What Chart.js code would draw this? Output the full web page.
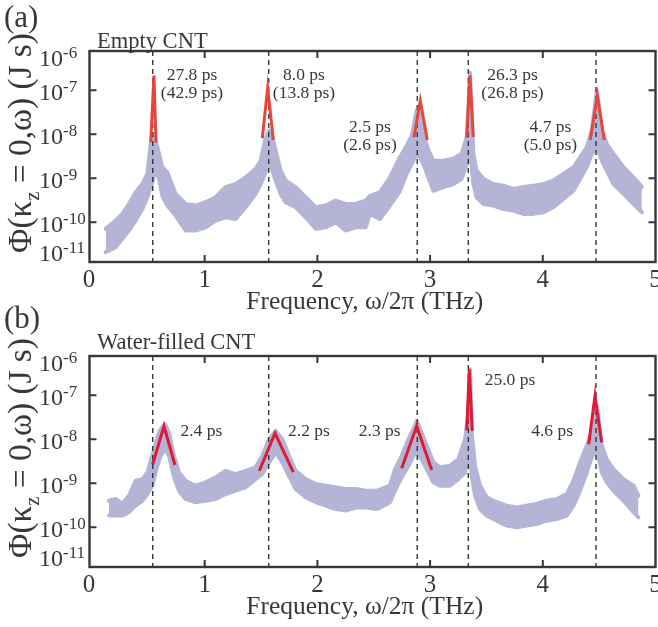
<!DOCTYPE html>
<html>
<head>
<meta charset="utf-8">
<title>Phi(kz=0, w) spectra: empty vs water-filled CNT</title>
<script src="https://cdn.jsdelivr.net/npm/chart.js"></script>
<style>
  html, body { margin: 0; padding: 0; background: #fff; }
  #wrap { position: relative; width: 658px; height: 627px; overflow: hidden; }
  #wrap canvas { position: absolute; left: 0; }
  #cA { top: 0; }
  #cB { top: 305px; }
</style>
</head>
<body>
<div id="wrap">
  <canvas id="cA" width="658" height="320"></canvas>
  <canvas id="cB" width="658" height="320"></canvas>
</div>
<script>
// ---- data ----
// scatter cloud, kept as its upper / lower edge per frequency (THz), in J s

// (a) empty CNT
const aFreq = [0.121, 0.210, 0.269, 0.328, 0.387, 0.447, 0.491, 0.521, 0.541, 0.565,
  0.595, 0.624, 0.668, 0.742, 0.831, 0.920, 1.008, 1.097, 1.186, 1.275,
  1.363, 1.452, 1.497, 1.535, 1.571, 1.600, 1.630, 1.674, 1.718, 1.807,
  1.896, 1.985, 2.074, 2.162, 2.251, 2.340, 2.429,
  2.467, 2.555, 2.644, 2.733, 2.792, 2.837, 2.881, 2.910, 2.940, 2.985,
  3.029, 3.118, 3.207, 3.280, 3.325, 3.354, 3.384, 3.413, 3.473, 3.561,
  3.650, 3.739, 3.828, 3.917, 4.005, 4.094, 4.183, 4.272, 4.331, 4.390,
  4.435, 4.479, 4.524, 4.568, 4.627, 4.716, 4.805, 4.879];
const aUpper = [7.1e-11, 1.09e-10, 1.55e-10, 2.6e-10, 4.8e-10, 7.4e-10, 1.26e-9, 6.0e-9, 1.02e-8, 7.2e-9,
  3.6e-9, 1.78e-9, 1.37e-9, 4.4e-10, 2.6e-10, 2.4e-10, 2.85e-10, 3.7e-10, 6.3e-10, 7.4e-10,
  1.05e-9, 1.63e-9, 2.5e-9, 7.2e-9, 1.21e-8, 8.6e-9, 4.3e-9, 1.5e-9, 8.9e-10, 6.3e-10,
  3.7e-10, 2.2e-10, 2.4e-10, 3.1e-10, 2.6e-10, 2.6e-10, 3.1e-10,
  4.0e-10, 4.8e-10, 1.05e-9, 3.0e-9, 5.5e-9, 9.3e-9, 3.5e-8, 2.9e-8, 1.02e-8, 4.3e-9,
  2.5e-9, 2.5e-9, 2.8e-9, 3.6e-9, 8.6e-9, 2.5e-7, 3.6e-9, 1.5e-9, 9.7e-10, 7.4e-10,
  6.8e-10, 5.7e-10, 6.3e-10, 6.8e-10, 7.4e-10, 8.9e-10, 1.26e-9, 1.78e-9, 3.0e-9, 5.1e-9,
  1.21e-8, 9.8e-8, 1.21e-8, 6.0e-9, 3.6e-9, 1.78e-9, 1.05e-9, 6.3e-10];
const aLower = [2.1e-11, 2.7e-11, 4.2e-11, 6.5e-11, 1.09e-10, 2.0e-10, 3.7e-10, 6.3e-10, 8.9e-10, 1.78e-9,
  9.7e-10, 4.0e-10, 2.4e-10, 1.42e-10, 6.5e-11, 6.5e-11, 7.7e-11, 1.09e-10, 1.3e-10, 1.19e-10,
  2.2e-10, 4.4e-10, 7.4e-10, 1.26e-9, 2.5e-9, 1.5e-9, 8.9e-10, 4.4e-10, 2.85e-10, 2.2e-10,
  1.3e-10, 7.1e-11, 7.7e-11, 1.0e-10, 6.5e-11, 7.7e-11, 7.7e-11,
  1.55e-10, 1.19e-10, 2.4e-10, 5.2e-10, 1.26e-9, 2.1e-9, 3.6e-9, 3.0e-9, 2.1e-9, 1.05e-9,
  5.2e-10, 6.3e-10, 7.4e-10, 9.7e-10, 2.1e-9, 4.3e-9, 7.4e-10, 3.7e-10, 2.6e-10, 2.4e-10,
  2.0e-10, 1.85e-10, 1.55e-10, 1.55e-10, 1.69e-10, 2.2e-10, 3.4e-10, 5.2e-10, 9.7e-10, 1.78e-9,
  3.6e-9, 5.1e-9, 2.5e-9, 1.5e-9, 7.4e-10, 4.4e-10, 2.6e-10, 1.69e-10];
// red Lorentzian fits: [left foot, apex, right foot]
const aFitFreq = [[0.521, 0.550, 0.568], [1.511, 1.559, 1.609], [2.857, 2.913, 2.975],
  [3.325, 3.354, 3.383], [4.421, 4.484, 4.545]];
const aFitVal = [[6.6e-9, 2.16e-7, 6.5e-9], [8.1e-9, 1.13e-7, 7.4e-9], [8.6e-9, 5.8e-8, 7.4e-9],
  [8.3e-9, 2.16e-7, 8.6e-9], [7.4e-9, 7.6e-8, 7.4e-9]];
const aModes = [0.539, 1.568, 2.886, 3.339, 4.472];   // dashed lines
const aNotes = [['27.8 ps', '(42.9 ps)'], ['8.0 ps', '(13.8 ps)'], ['2.5 ps', '(2.6 ps)'],
  ['26.3 ps', '(26.8 ps)'], ['4.7 ps', '(5.0 ps)']];

// (b) water-filled CNT
const bFreq = [0.151, 0.210, 0.269, 0.328, 0.387, 0.447, 0.491, 0.535, 0.580, 0.609,
  0.648, 0.683, 0.728, 0.772, 0.831, 0.920, 1.008, 1.097, 1.186, 1.275,
  1.363, 1.452, 1.511, 1.571, 1.630, 1.689, 1.748, 1.807, 1.896, 1.985,
  2.074, 2.162, 2.251, 2.340, 2.429, 2.532, 2.644, 2.689, 2.748, 2.808,
  2.852, 2.881, 2.925, 2.970, 3.029, 3.088, 3.176, 3.250, 3.310, 3.339,
  3.354, 3.369, 3.399, 3.443, 3.502, 3.591, 3.680, 3.769, 3.857, 3.946,
  4.035, 4.124, 4.213, 4.272, 4.331, 4.390, 4.435, 4.479, 4.524, 4.568,
  4.627, 4.716, 4.805, 4.849];
const bUpper = [4.0e-10, 4.4e-10, 3.4e-10, 5.2e-10, 1.14e-9, 1.24e-9, 1.76e-9, 4.2e-9, 1.1e-8, 1.69e-8,
  2.2e-8, 1.42e-8, 4.2e-9, 1.76e-9, 1.14e-9, 8.8e-10, 1.05e-9, 1.36e-9, 1.92e-9, 1.62e-9,
  1.92e-9, 2.3e-9, 4.2e-9, 1.0e-8, 1.55e-8, 1.0e-8, 4.2e-9, 1.92e-9, 1.24e-9, 9.6e-10,
  8.8e-10, 8.1e-10, 7.4e-10, 7.4e-10, 6.8e-10, 6.8e-10, 8.8e-10, 2.1e-9, 4.2e-9, 1.0e-8,
  1.69e-8, 2.6e-8, 1.42e-8, 7.1e-9, 3.0e-9, 2.3e-9, 2.5e-9, 3.5e-9, 1.0e-8, 4.0e-8,
  3.9e-7, 1.42e-8, 2.5e-9, 8.8e-10, 4.8e-10, 3.7e-10, 3.1e-10, 2.8e-10, 3.1e-10, 3.4e-10,
  4.0e-10, 4.4e-10, 5.7e-10, 1.14e-9, 3.0e-9, 7.1e-9, 1.42e-8, 5.7e-8, 7.1e-9, 3.5e-9,
  2.1e-9, 1.24e-9, 8.8e-10, 5.2e-10];
const bLower = [1.84e-10, 1.84e-10, 1.84e-10, 2.2e-10, 3.1e-10, 4.0e-10, 5.7e-10, 8.8e-10, 2.5e-9, 4.2e-9,
  6.0e-9, 4.2e-9, 1.36e-9, 6.8e-10, 4.4e-10, 3.7e-10, 4.0e-10, 4.4e-10, 5.7e-10, 6.8e-10,
  8.1e-10, 1.24e-9, 1.62e-9, 3.0e-9, 5.0e-9, 3.0e-9, 1.48e-9, 7.4e-10, 4.8e-10, 3.7e-10,
  3.1e-10, 2.6e-10, 2.4e-10, 2.8e-10, 2.8e-10, 2.6e-10, 3.7e-10, 6.8e-10, 1.36e-9, 2.5e-9,
  4.2e-9, 5.0e-9, 3.5e-9, 2.1e-9, 1.05e-9, 8.8e-10, 8.8e-10, 1.24e-9, 1.76e-9, 3.5e-9,
  5.0e-9, 1.48e-9, 5.2e-10, 2.6e-10, 1.84e-10, 1.41e-10, 1.09e-10, 1.0e-10, 1.09e-10, 1.19e-10,
  1.41e-10, 1.54e-10, 1.84e-10, 3.1e-10, 6.8e-10, 1.76e-9, 3.9e-9, 6.0e-9, 1.76e-9, 1.05e-9,
  6.8e-10, 4.0e-10, 2.2e-10, 1.68e-10];
const bFitFreq = [[0.539, 0.639, 0.736], [1.484, 1.624, 1.786], [2.748, 2.881, 3.014],
  [3.325, 3.348, 3.374], [4.407, 4.463, 4.522]];
const bFitVal = [[2.7e-9, 2.0e-8, 2.6e-9], [1.9e-9, 1.38e-8, 1.8e-9], [2.2e-9, 2.0e-8, 2.0e-9],
  [1.6e-8, 3.9e-7, 1.55e-8], [7.7e-9, 9.6e-8, 8.5e-9]];
const bModes = [0.539, 1.568, 2.886, 3.339, 4.472];
const bNotes = [['2.4 ps'], ['2.2 ps'], ['2.3 ps'], ['25.0 ps'], ['4.6 ps']];

// axes
const xTicks = [0, 1, 2, 3, 4, 5];
const yDecades = [1e-6, 1e-7, 1e-8, 1e-9, 1e-10, 1e-11];

// ---- look ----
const FONT = '"Liberation Serif", "Times New Roman", serif';
const INK = '#383838';
const LAV = 'rgb(180,180,214)';
const X_MIN = -0.022, X_MAX = 5;
const Y_MIN = 1.25e-11, Y_MAX = 7.8e-7;
const H = 320;

// where the fit-time labels sit, in data units (THz, J s)
const aNotePos = [[0.887, 1.75e-7], [1.881, 1.75e-7], [2.467, 1.11e-8], [3.731, 1.75e-7], [4.068, 1.11e-8]];
const bNotePos = [[0.970, 1.19e-8], [1.925, 1.19e-8], [2.553, 1.16e-8], [3.709, 1.69e-7], [4.082, 1.16e-8]];

function yTitle(ctx, cx, cy) {
  const parts = [['Φ(κ', 0], ['z', 1], [' = 0,ω) (J s)', 0]];
  let fs = 30;
  const measure = () => parts.reduce((w, p) => {
    ctx.font = (p[1] ? fs * 0.62 : fs) + 'px ' + FONT;
    return w + ctx.measureText(p[0]).width;
  }, 0);
  fs = fs * 220 / measure();
  const total = measure();
  ctx.save();
  ctx.translate(cx, cy);
  ctx.rotate(-Math.PI / 2);
  ctx.fillStyle = INK;
  ctx.textBaseline = 'alphabetic';
  ctx.textAlign = 'left';
  let x = -total / 2;
  const base = fs * 0.28;
  parts.forEach(p => {
    ctx.font = (p[1] ? fs * 0.62 : fs) + 'px ' + FONT;
    ctx.fillText(p[0], x, p[1] ? base + fs * 0.22 : base);
    x += ctx.measureText(p[0]).width;
  });
  ctx.restore();
}

function decorations(tag, tagBase, title, titleBase, notes, notePos) {
  return {
    id: 'deco',
    afterDraw(chart) {
      const ctx = chart.ctx;
      const a = chart.chartArea;
      const xs = chart.scales.x, ys = chart.scales.y;
      ctx.save();
      // frame + inward ticks
      ctx.strokeStyle = INK;
      ctx.lineWidth = 2.4;
      ctx.strokeRect(a.left, a.top, a.right - a.left, a.bottom - a.top);
      ctx.lineWidth = 2;
      ctx.beginPath();
      xTicks.forEach(t => {
        if (t <= 0 || t >= 5) return;
        const px = xs.getPixelForValue(t);
        ctx.moveTo(px, a.bottom); ctx.lineTo(px, a.bottom - 7);
        ctx.moveTo(px, a.top); ctx.lineTo(px, a.top + 7);
      });
      yDecades.forEach(v => {
        if (v <= Y_MIN || v >= Y_MAX) return;
        const py = ys.getPixelForValue(v);
        ctx.moveTo(a.left, py); ctx.lineTo(a.left + 7, py);
        ctx.moveTo(a.right, py); ctx.lineTo(a.right - 7, py);
      });
      ctx.stroke();

      ctx.fillStyle = INK;
      // x tick labels
      ctx.font = '25px ' + FONT;
      ctx.textAlign = 'center';
      ctx.textBaseline = 'alphabetic';
      xTicks.forEach(t => {
        const px = t === 0 ? xs.getPixelForValue(t) - 3 : xs.getPixelForValue(t);
        ctx.fillText(String(t), px, a.bottom + 25);
      });
      // x title
      ctx.font = '25.5px ' + FONT;
      ctx.fillText('Frequency, ω/2π (THz)', xs.getPixelForValue(2.42), 309);

      // y tick labels 10^n, end labels held inside the frame
      ctx.textAlign = 'left';
      yDecades.forEach(v => {
        const n = Math.round(Math.log10(v));
        let cy = ys.getPixelForValue(v) + 1.5;
        cy = Math.max(a.top + 6.5, Math.min(a.bottom - 9.5, cy));
        ctx.font = '24px ' + FONT;
        ctx.fillText('10', 39, cy + 8);
        const w = ctx.measureText('10').width;
        ctx.font = '17px ' + FONT;
        ctx.fillText(String(n), 39 + w, cy);
      });
      yTitle(ctx, 22, 143);

      // panel tag and title
      ctx.font = '31px ' + FONT;
      ctx.fillText(tag, 4, tagBase);
      ctx.font = '22.5px ' + FONT;
      ctx.fillText(title, 97, titleBase);

      // fit times
      ctx.font = '17.5px ' + FONT;
      ctx.textAlign = 'center';
      notes.forEach((lines, i) => {
        const px = xs.getPixelForValue(notePos[i][0]);
        const py = ys.getPixelForValue(notePos[i][1]);
        lines.forEach((s, k) => ctx.fillText(s, px, py + k * 18));
      });
      ctx.restore();
    }
  };
}

function makePanel(id, freq, upper, lower, fitFreq, fitVal, modes, red, deco) {
  const band = arr => freq.map((f, i) => ({ x: f, y: arr[i] }));
  const fits = [];
  fitFreq.forEach((seg, k) => {
    seg.forEach((f, j) => fits.push({ x: f, y: fitVal[k][j] }));
    fits.push({ x: seg[seg.length - 1], y: null });
  });
  const lines = [];
  modes.forEach(f => lines.push({ x: f, y: Y_MAX }, { x: f, y: Y_MIN }, { x: f, y: null }));

  return new Chart(document.getElementById(id), {
    type: 'line',
    data: {
      datasets: [
        { data: fits, borderColor: red, borderWidth: 3, pointRadius: 0, spanGaps: false, order: 0 },
        { data: lines, borderColor: INK, borderWidth: 1.4, borderDash: [5, 4], pointRadius: 0, spanGaps: false, order: 1 },
        { data: band(lower), borderColor: LAV, backgroundColor: LAV, borderWidth: 4, borderJoinStyle: 'round', borderCapStyle: 'round', pointRadius: 0, fill: false, order: 2 },
        { data: band(upper), borderColor: LAV, backgroundColor: LAV, borderWidth: 4, borderJoinStyle: 'round', borderCapStyle: 'round', pointRadius: 0, fill: '-1', order: 2 }
      ]
    },
    options: {
      responsive: false,
      animation: false,
      devicePixelRatio: 1,
      layout: { padding: { top: 51, right: 2.5, left: 0, bottom: 0 } },
      plugins: { legend: { display: false }, tooltip: { enabled: false } },
      scales: {
        x: {
          type: 'linear', min: X_MIN, max: X_MAX,
          grid: { display: false, drawTicks: false }, border: { display: false },
          ticks: { display: false },
          afterFit(s) { s.height = H - 262; }
        },
        y: {
          type: 'logarithmic', min: Y_MIN, max: Y_MAX,
          grid: { display: false, drawTicks: false }, border: { display: false },
          ticks: { display: false },
          afterFit(s) { s.width = 89.5; }
        }
      }
    },
    plugins: [deco]
  });
}

makePanel('cA', aFreq, aUpper, aLower, aFitFreq, aFitVal, aModes, '#e5473d',
  decorations('(a)', 27, 'Empty CNT', 47.7, aNotes, aNotePos));
makePanel('cB', bFreq, bUpper, bLower, bFitFreq, bFitVal, bModes, '#de1a35',
  decorations('(b)', 23, 'Water-filled CNT', 44.3, bNotes, bNotePos));
</script>
</body>
</html>
